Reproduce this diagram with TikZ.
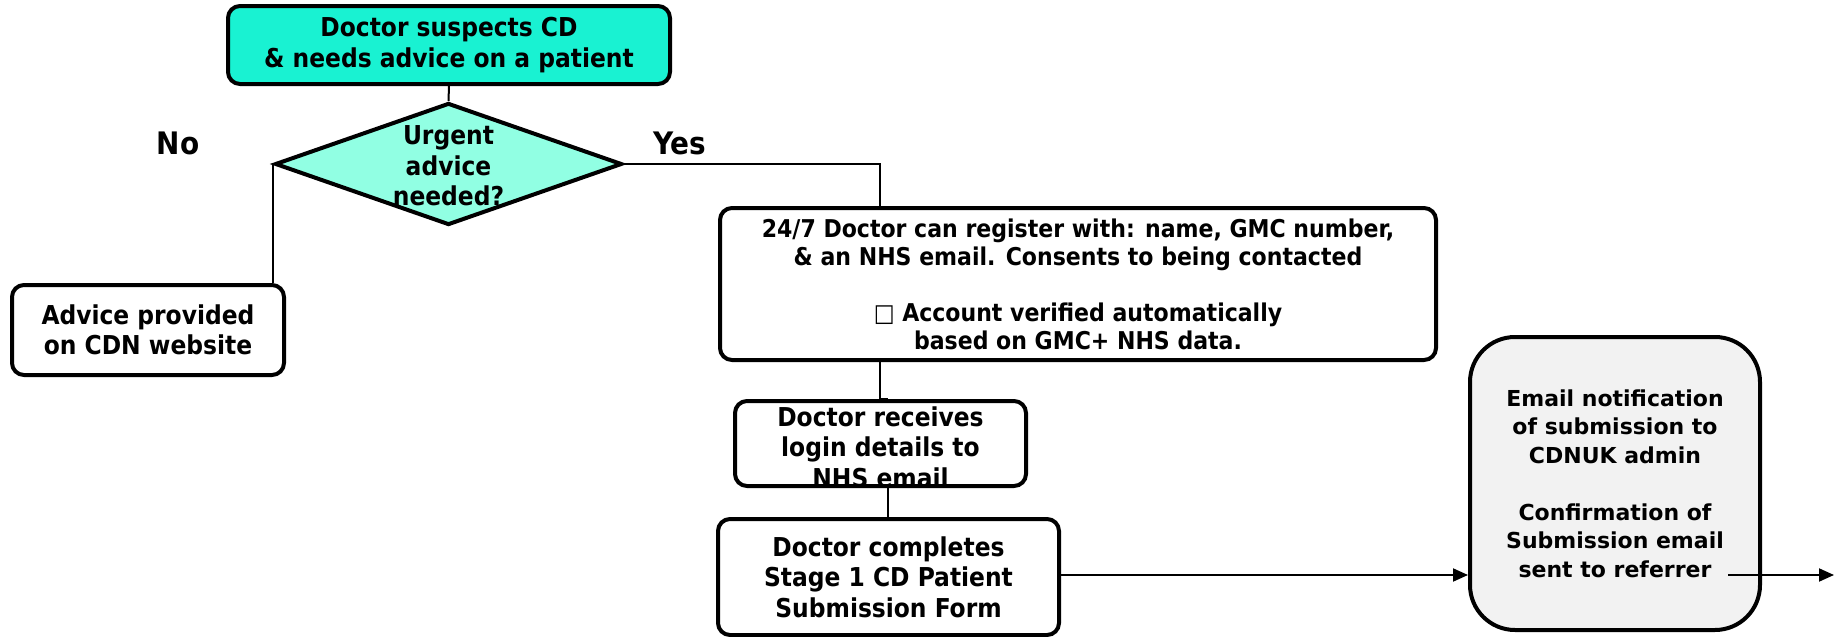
\documentclass[tikz,border=0pt]{standalone}
\usepackage{fontspec}
\setmainfont{DejaVu Sans}
\newfontfamily\cond{DejaVu Sans Condensed}
\usetikzlibrary{shapes.geometric,arrows.meta}
\definecolor{topfill}{HTML}{19F2D2}
\definecolor{decfill}{HTML}{91FFE3}
\definecolor{grayfill}{HTML}{F2F2F2}
\begin{document}
\begin{tikzpicture}[x=1pt,y=-1pt,
  box/.style={draw, line width=4pt, rounded corners=12pt, align=center, inner sep=0pt,
    font=\cond\bfseries\fontsize{26}{30.5}\selectfont},
  txt/.style={align=center, inner sep=0pt, font=\cond\bfseries\fontsize{26}{30.5}\selectfont},
  lbl/.style={inner sep=0pt, font=\cond\bfseries\fontsize{31}{36}\selectfont},
  conn/.style={line width=2pt},
  arr/.style={line width=2pt,-{Triangle[length=15pt,width=13pt]}}]
\useasboundingbox (0,0) rectangle (1837,637);

\node[box, fill=topfill, minimum width=442pt, minimum height=78pt] (top) at (449,45)
  {Doctor suspects CD\\\& needs advice on a patient};
\node[diamond, draw, line width=4pt, fill=decfill, minimum width=347pt, minimum height=122pt, inner sep=0pt] (dec) at (448.5,164) {};
\node[txt] (dectxt) at (448.5,166) {Urgent\\advice\\needed?};
\node[lbl] (no) at (178,143) {No};
\node[lbl] (yes) at (680,143) {Yes};
\node[box, minimum width=272pt, minimum height=90pt] (advice) at (148,330)
  {Advice provided\\on CDN website};
\node[box, minimum width=716pt, minimum height=152pt, font=\cond\bfseries\fontsize{24.5}{28}\selectfont] (reg) at (1078,284)
  {24/7 Doctor can register with: name, GMC number,\\\& an NHS email. Consents to being contacted\\[28pt]
   □ Account verified automatically\\based on GMC+ NHS data.};
\node[box, minimum width=291pt, minimum height=85pt] (recv) at (880.5,443.5) {};
\node[txt] (recvtxt) at (880.5,447) {Doctor receives\\login details to\\NHS email};
\node[box, minimum width=341pt, minimum height=116pt] (comp) at (888.5,577)
  {Doctor completes\\Stage 1 CD Patient\\Submission Form};
\node[box, fill=grayfill, rounded corners=45pt, minimum width=290pt, minimum height=293pt,
  font=\bfseries\fontsize{22}{28.5}\selectfont] (email) at (1615,483.5)
  {Email notification\\of submission to\\CDNUK admin\\[28.5pt]Confirmation of\\Submission email\\sent to referrer};

\coordinate (j1) at (880,164);
\coordinate (j2) at (888,399);
\coordinate (outs) at (1728,575);
\coordinate (oute) at (1834,575);

\draw[conn] (top.south) -- (dec.north);
\draw[conn] (dec.west) -- (dec.west |- advice.north);
\draw[conn] (dec.east) -- (j1) -- (j1 |- reg.north);
\draw[conn] (j1 |- reg.south) |- (j2);
\draw[conn] (j2 |- recv.south) -- (j2 |- comp.north);
\draw[arr] (comp.east |- outs) -- (email.west |- outs);
\draw[arr] (outs) -- (oute);
\end{tikzpicture}
\end{document}
